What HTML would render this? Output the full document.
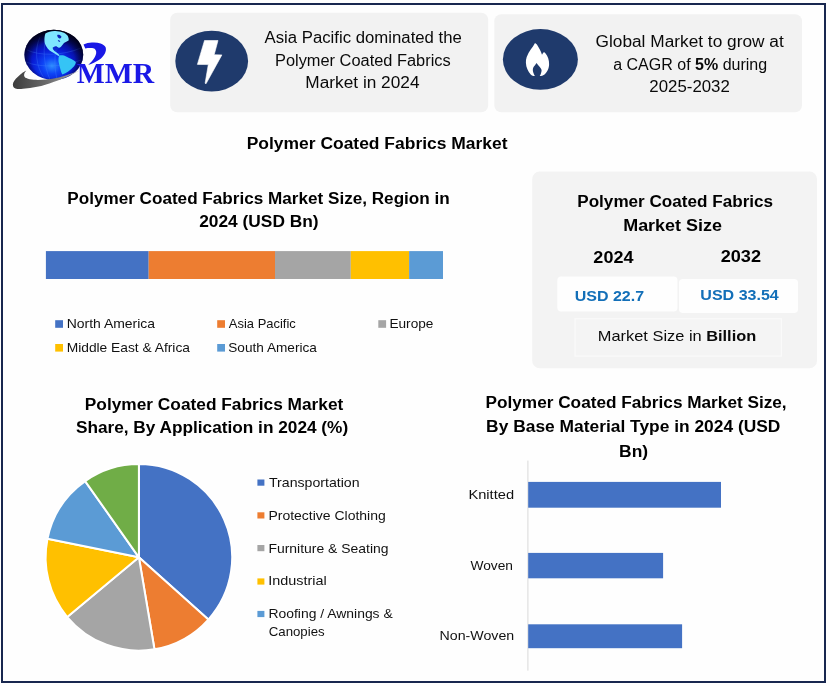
<!DOCTYPE html>
<html lang="en">
<head>
<meta charset="utf-8">
<title>Polymer Coated Fabrics Market</title>
<style>
html,body{margin:0;padding:0;background:#fefefe;}
body{width:830px;height:686px;overflow:hidden;font-family:"Liberation Sans",sans-serif;}
svg{display:block;position:absolute;left:0;top:0;}
text{font-family:"Liberation Sans",sans-serif;fill:#0a0a0a;}
.t{font-weight:normal;}
.h{font-weight:bold;fill:#000;}
.lg{fill:#111;}
.usd{font-weight:bold;fill:#136fb8;}
.mmr{font-family:"Liberation Serif",serif;font-weight:bold;fill:#1a18e6;}
</style>
</head>
<body>
<svg width="830" height="686" viewBox="0 0 830 686">
<defs>
  <radialGradient id="gl" cx="0.47" cy="0.72" r="0.72">
    <stop offset="0" stop-color="#2d8eff"/>
    <stop offset="0.22" stop-color="#0e44f6"/>
    <stop offset="0.48" stop-color="#081ad2"/>
    <stop offset="0.74" stop-color="#050c84"/>
    <stop offset="1" stop-color="#010220"/>
  </radialGradient>
  <radialGradient id="rim" cx="0.49" cy="0.6" r="0.6">
    <stop offset="0.6" stop-color="#000020" stop-opacity="0"/>
    <stop offset="0.82" stop-color="#000020" stop-opacity="0.6"/>
    <stop offset="1" stop-color="#000010" stop-opacity="0.97"/>
  </radialGradient>
  <linearGradient id="sw" x1="0" y1="0" x2="1" y2="0">
    <stop offset="0" stop-color="#3c3c3c"/>
    <stop offset="0.5" stop-color="#6a6a6a"/>
    <stop offset="1" stop-color="#a8a8b0"/>
  </linearGradient>
</defs>

<!-- page frame -->
<rect x="0" y="0" width="830" height="686" fill="#fefefe"/>
<rect x="2" y="4" width="823" height="678" fill="none" stroke="#18274f" stroke-width="2"/>

<!-- logo -->
<g id="logo">
  <ellipse cx="53.8" cy="54.8" rx="29.4" ry="25" fill="url(#gl)"/>
  <g fill="none" stroke="#4d8dff" stroke-width="0.5" opacity="0.55">
    <path d="M40 37 C34 50 36 66 44 78"/>
    <path d="M47 33 C42 48 44 66 50 79.5"/>
    <path d="M56 50 C54 60 55 70 57 79.5"/>
    <path d="M27 50 C40 56 62 56 81 48"/>
    <path d="M26 62 C40 68 64 67 81 60"/>
  </g>
  <ellipse cx="53.8" cy="54.8" rx="29.4" ry="25" fill="url(#rim)"/>
  <path d="M45.4 33.6 C48 31.6 52 30.8 55.5 31 C58 31.2 60.5 31.6 62.3 32.3 C64.5 33 66.3 34.2 67.3 35.3 C68.4 37 69 39 68.6 40.4 C67 41.5 65.5 42 64 42.9 C63 44 62.2 45.3 61.4 46.3 C60.5 47.2 59.5 48 58.5 48 C57.6 47.6 57 46.6 56.3 46.3 C55.4 46.2 54.5 46.5 53.8 47.1 C53.2 48 53 49 53.4 49.7 C54.2 50.8 55.3 51.5 56.3 52.2 C57.5 53.2 58.8 54.2 59.7 55.2 L58.5 56 C57 55 55.4 54 53.8 53 C52.3 52.3 50.8 51.5 49.6 50.5 C48.2 49.3 47 47.8 46.2 46.3 C45.2 44.6 44.6 43 44.5 41.2 C44.3 38.5 44.6 36 45.4 33.6 Z" fill="#7fe6ff"/>
  <path d="M57.2 35 C58.6 34.4 60.4 35 61.3 36.3 C61.6 37.6 60.8 38.6 59.6 38.4 C58.2 38 57.2 36.6 57.2 35 Z M57.8 40.2 C58.8 40 59.9 40.6 60.3 41.4 C59.6 42 58.2 41.6 57.8 40.2 Z" fill="#0c22b4"/>
  <path d="M52.6 47.8 C53.6 46.9 55 46.9 55.8 47.7 C56.7 46.9 58.2 47 59 47.9 C58.6 49.3 57.2 50.2 55.8 49.9 C54.4 50.4 52.8 49.4 52.6 47.8 Z" fill="#0c2ccc"/>
  <path d="M59.2 55.6 C60.8 55 62.5 55 64 55.6 C65.8 56.3 67.5 57.2 69 58.1 C71.5 59.2 74 60.4 75.8 61.9 C75.8 63.5 75 65 74.1 66.2 C72.4 68.2 70.3 70 68.2 71.6 C66.3 72.9 64.3 74 62.3 74.6 C61.4 73.2 61 71.6 60.6 70 C60 67.8 59.4 65.5 58.9 63.2 C58.5 61.8 58.3 60.4 58.5 59 C58.5 57.8 58.7 56.6 59.2 55.6 Z" fill="#35c4f5"/>
  <path d="M26.3 70.5 C23.8 71.8 21.6 73.3 19.8 74.9 C16.8 77.4 14.3 80 13.3 82.5 C12.8 83.6 12.7 84.7 13 85.7 C13.3 87 14.2 87.9 15.4 88.4 C17.6 89.2 20.2 89.1 23 88.8 C27.6 88.4 32.4 87.8 37.1 86.8 C42.6 85.6 48.1 83.9 53.4 81.9 C59.4 79.8 65.3 77.6 70.7 74.9 C73.8 73.6 76.8 72.2 79.4 70.5 C76.6 71.7 73.7 72.9 70.7 73.8 C66.9 75.3 62.9 76.6 58.8 77.6 C54.6 78.6 50.2 79.2 45.8 79.5 C41.8 79.9 37.8 80.1 33.9 79.8 C31.2 79.6 28.4 79.2 26.3 78.1 C25 77.5 24.2 76.6 24.1 75.4 C24 73.6 25 72 26.3 70.5 Z" fill="url(#sw)"/>
  <path d="M83.5 44.5 C86 43.3 89 42.8 91.9 42.6 C95 42.4 98 42.6 100.6 43.4 C103 44.2 105 45.6 105.7 47.4 C106.2 49.3 105.9 51.3 105 53.2 C103.8 55.8 101.7 58 99.2 59.8 C96 62 92 63.8 88.2 64.9 C90.5 63 92.6 60.8 94.1 58.3 C95.4 56.2 96.4 54 96.2 51.8 C96 50.4 95.3 49.2 94.1 48.5 C91.5 47.8 88 48 85.3 48.5 Z" fill="#1a18e6"/>
  <text class="mmr" font-size="28.4" x="76.79" y="82.70" textLength="77.35" lengthAdjust="spacingAndGlyphs">MMR</text>
</g>

<!-- header cards -->
<rect x="170.2" y="12.7" width="318" height="99.5" rx="7" fill="#f2f2f2"/>
<ellipse cx="211.7" cy="61.1" rx="36.4" ry="30.4" fill="#1f3a6c"/>
<path d="M204.5 40.5 L218 40.5 L214.2 54.7 L221.9 54.9 L206 83.8 L205.1 83.2 L208.3 64.6 L197.4 64.4 Z" fill="#fff" stroke="#fff" stroke-width="0.6" stroke-linejoin="round"/>
<text class="t" font-size="15.6" x="264.57" y="42.80" textLength="197.28" lengthAdjust="spacingAndGlyphs">Asia Pacific dominated the</text>
<text class="t" font-size="15.6" x="274.96" y="65.70" textLength="175.74" lengthAdjust="spacingAndGlyphs">Polymer Coated Fabrics</text>
<text class="t" font-size="15.6" x="305.38" y="87.90" textLength="114.12" lengthAdjust="spacingAndGlyphs">Market in 2024</text>

<rect x="494.3" y="14.3" width="307.7" height="97.9" rx="7" fill="#f2f2f2"/>
<ellipse cx="540.4" cy="59.4" rx="37.5" ry="30.3" fill="#1f3a6c"/>
<path id="flame" d="M535 42.9 C533.8 45.4 532.2 47.5 530.7 49.6 C529.2 51.9 527.7 54.3 526.7 56.9 C526 58.8 525.8 60.8 525.9 62.7 C526 65 526.5 67.3 527.4 69.3 C528.2 71.2 529.3 72.9 530.7 74.4 C531.8 75.3 533.2 76 535 76 L539.8 76 C541.4 76 542.9 75.6 544.2 74.7 C545.7 73.5 547 71.9 547.8 70 C548.6 68.2 549.1 66.2 549.1 64.2 C549.2 62.2 548.8 60.2 548.2 58.3 C547.6 56.6 546.7 55 545.6 53.6 C545.1 52.9 544.6 52.4 544 51.9 C543.2 52.7 542.5 53.6 542 54.7 C541.4 52.9 540.7 51.2 539.8 49.6 C538.9 47.8 537.9 46.1 536.9 44.5 C536.3 43.8 535.7 43.3 535 42.9 Z" fill="#fff"/>
<path d="M536.5 63.1 C535.5 64.9 534 66.2 533.2 67.8 C532.7 69.2 532.7 70.8 533.2 72.2 C533.6 73.6 534.2 74.9 535 76.2 L539.5 76.2 C540.2 75.5 540.7 74.6 540.9 73.6 C541.3 72.4 541.7 71.2 541.6 70 C541.3 68.9 540.6 68 539.8 67.1 C538.6 65.9 537.4 64.6 536.5 63.1 Z" fill="#1f3a6c"/>
<text class="t" font-size="15.6" x="595.53" y="47.00" textLength="188.20" lengthAdjust="spacingAndGlyphs">Global Market to grow at</text>
<text class="t" font-size="15.6" x="613.22" y="69.80" textLength="153.91" lengthAdjust="spacingAndGlyphs">a CAGR of <tspan font-weight="bold">5%</tspan> during</text>
<text class="t" font-size="15.6" x="649.35" y="92.10" textLength="80.49" lengthAdjust="spacingAndGlyphs">2025-2032</text>

<!-- main title -->
<text class="h" font-size="17.2" x="246.73" y="148.80" textLength="260.78" lengthAdjust="spacingAndGlyphs">Polymer Coated Fabrics Market</text>

<!-- region stacked bar -->
<text class="h" font-size="17.2" x="67.25" y="203.80" textLength="382.51" lengthAdjust="spacingAndGlyphs">Polymer Coated Fabrics Market Size, Region in</text>
<text class="h" font-size="17.2" x="199.20" y="227.20" textLength="119.46" lengthAdjust="spacingAndGlyphs">2024 (USD Bn)</text>
<rect x="45.9" y="251.1" width="102.8" height="27.9" fill="#4472c4"/>
<rect x="148.7" y="251.1" width="126.3" height="27.9" fill="#ed7d31"/>
<rect x="275" y="251.1" width="75.8" height="27.9" fill="#a5a5a5"/>
<rect x="350.8" y="251.1" width="58.3" height="27.9" fill="#ffc000"/>
<rect x="409.1" y="251.1" width="33.9" height="27.9" fill="#5b9bd5"/>

<rect x="55.2" y="320.2" width="7.8" height="7.6" fill="#4472c4"/>
<rect x="217.2" y="320.2" width="7.8" height="7.6" fill="#ed7d31"/>
<rect x="378.3" y="320.2" width="7.8" height="7.6" fill="#a5a5a5"/>
<rect x="55.2" y="344" width="7.8" height="7.6" fill="#ffc000"/>
<rect x="217.2" y="344" width="7.8" height="7.6" fill="#5b9bd5"/>
<text class="lg" font-size="12.9" x="66.66" y="327.80" textLength="88.44" lengthAdjust="spacingAndGlyphs">North America</text>
<text class="lg" font-size="12.9" x="228.87" y="327.80" textLength="66.97" lengthAdjust="spacingAndGlyphs">Asia Pacific</text>
<text class="lg" font-size="12.9" x="389.48" y="327.80" textLength="43.92" lengthAdjust="spacingAndGlyphs">Europe</text>
<text class="lg" font-size="12.9" x="66.68" y="351.70" textLength="123.32" lengthAdjust="spacingAndGlyphs">Middle East &amp; Africa</text>
<text class="lg" font-size="12.9" x="228.29" y="351.70" textLength="88.61" lengthAdjust="spacingAndGlyphs">South America</text>

<!-- market size panel -->
<rect x="532.2" y="171.5" width="284.8" height="196.7" rx="7.5" fill="#f3f3f3"/>
<rect x="557.3" y="276.4" width="120.2" height="35.2" rx="4" fill="#fefefe"/>
<rect x="679" y="279.1" width="119" height="34" rx="4" fill="#fefefe"/>
<rect x="575" y="318.8" width="206.4" height="37.3" fill="#f4f4f4" stroke="#fafafa" stroke-width="1.2"/>
<text class="h" font-size="17.2" x="577.26" y="206.60" textLength="195.85" lengthAdjust="spacingAndGlyphs">Polymer Coated Fabrics</text>
<text class="h" font-size="17.2" x="623.20" y="231.40" textLength="98.71" lengthAdjust="spacingAndGlyphs">Market Size</text>
<text class="h" font-size="17.2" x="593.38" y="262.70" textLength="40.02" lengthAdjust="spacingAndGlyphs">2024</text>
<text class="h" font-size="17.2" x="720.67" y="261.50" textLength="40.36" lengthAdjust="spacingAndGlyphs">2032</text>
<text class="usd" font-size="15" x="574.74" y="301.30" textLength="69.36" lengthAdjust="spacingAndGlyphs">USD 22.7</text>
<text class="usd" font-size="15.4" x="700.34" y="300.40" textLength="78.45" lengthAdjust="spacingAndGlyphs">USD 33.54</text>
<text class="t" font-size="15" x="597.86" y="341.40" textLength="158.36" lengthAdjust="spacingAndGlyphs">Market Size in <tspan font-weight="bold">Billion</tspan></text>

<!-- pie chart -->
<text class="h" font-size="17.2" x="84.84" y="409.50" textLength="258.47" lengthAdjust="spacingAndGlyphs">Polymer Coated Fabrics Market</text>
<text class="h" font-size="17.2" x="75.90" y="432.50" textLength="272.25" lengthAdjust="spacingAndGlyphs">Share, By Application in 2024 (%)</text>
<g id="pie" stroke="#fff" stroke-width="2" stroke-linejoin="round">
<path d="M138.9 557.3 L138.90 464.00 A93.3 93.3 0 0 1 208.34 619.61 Z" fill="#4472c4"/>
<path d="M138.9 557.3 L208.34 619.61 A93.3 93.3 0 0 1 154.46 649.29 Z" fill="#ed7d31"/>
<path d="M138.9 557.3 L154.46 649.29 A93.3 93.3 0 0 1 67.22 617.02 Z" fill="#a5a5a5"/>
<path d="M138.9 557.3 L67.22 617.02 A93.3 93.3 0 0 1 47.47 538.70 Z" fill="#ffc000"/>
<path d="M138.9 557.3 L47.47 538.70 A93.3 93.3 0 0 1 85.12 481.06 Z" fill="#5b9bd5"/>
<path d="M138.9 557.3 L85.12 481.06 A93.3 93.3 0 0 1 138.90 464.00 Z" fill="#70ad47"/>
</g>

<rect x="257.4" y="479.5" width="7" height="6.2" fill="#4472c4"/>
<rect x="257.4" y="512.3" width="7" height="6.2" fill="#ed7d31"/>
<rect x="257.4" y="545.0" width="7" height="6.2" fill="#a5a5a5"/>
<rect x="257.4" y="578.4" width="7" height="6.2" fill="#ffc000"/>
<rect x="257.4" y="610.9" width="7" height="6.2" fill="#5b9bd5"/>
<text class="lg" font-size="12.9" x="268.98" y="487.10" textLength="90.63" lengthAdjust="spacingAndGlyphs">Transportation</text>
<text class="lg" font-size="12.9" x="268.45" y="519.80" textLength="117.35" lengthAdjust="spacingAndGlyphs">Protective Clothing</text>
<text class="lg" font-size="12.9" x="268.46" y="552.70" textLength="120.04" lengthAdjust="spacingAndGlyphs">Furniture &amp; Seating</text>
<text class="lg" font-size="12.9" x="268.27" y="585.10" textLength="58.49" lengthAdjust="spacingAndGlyphs">Industrial</text>
<text class="lg" font-size="12.9" x="268.47" y="618.30" textLength="124.25" lengthAdjust="spacingAndGlyphs">Roofing / Awnings &amp;</text>
<text class="lg" font-size="12.9" x="268.73" y="636.30" textLength="55.95" lengthAdjust="spacingAndGlyphs">Canopies</text>

<!-- bar chart -->
<text class="h" font-size="17.2" x="485.55" y="408.30" textLength="301.10" lengthAdjust="spacingAndGlyphs">Polymer Coated Fabrics Market Size,</text>
<text class="h" font-size="17.2" x="486.14" y="432.20" textLength="294.28" lengthAdjust="spacingAndGlyphs">By Base Material Type in 2024 (USD</text>
<text class="h" font-size="17.2" x="619.13" y="457.20" textLength="29.03" lengthAdjust="spacingAndGlyphs">Bn)</text>
<rect x="527.4" y="460.6" width="1" height="210" fill="#d9d9d9"/>
<rect x="528.2" y="481.9" width="192.8" height="25.8" fill="#4472c4"/>
<rect x="528.2" y="552.9" width="134.9" height="25.4" fill="#4472c4"/>
<rect x="528.2" y="624.3" width="153.9" height="23.9" fill="#4472c4"/>
<text class="lg" font-size="12.9" x="468.40" y="498.90" textLength="45.65" lengthAdjust="spacingAndGlyphs">Knitted</text>
<text class="lg" font-size="12.9" x="470.44" y="569.60" textLength="42.55" lengthAdjust="spacingAndGlyphs">Woven</text>
<text class="lg" font-size="12.9" x="439.54" y="639.70" textLength="74.68" lengthAdjust="spacingAndGlyphs">Non-Woven</text>
</svg>
</body>
</html>
